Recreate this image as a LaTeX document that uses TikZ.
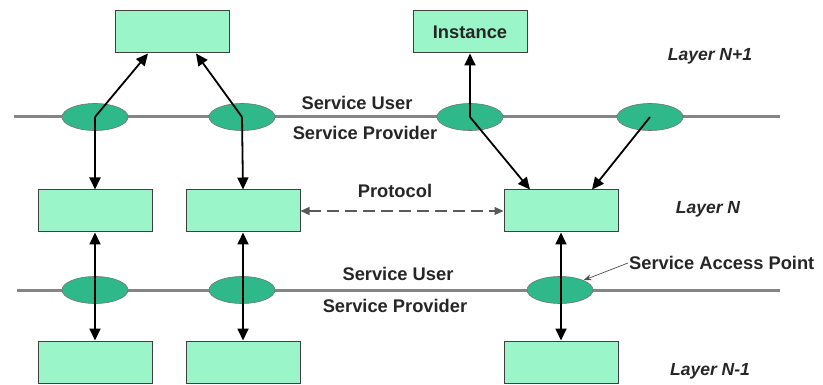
\documentclass[tikz,border=0pt]{standalone}
\usepackage{fontspec}
\setmainfont{Liberation Sans}
\usetikzlibrary{shapes.geometric,arrows.meta}
\definecolor{boxgreen}{HTML}{9AF5C8}
\definecolor{sapgreen}{HTML}{2FB98A}
\definecolor{linegray}{HTML}{858585}
\tikzset{
  unit/.style={draw=black!75, fill=boxgreen, line width=1pt, minimum width=114pt, minimum height=42pt, inner sep=0pt},
  sap/.style={ellipse, draw=black!55, fill=sapgreen, line width=0.6pt, minimum width=66pt, minimum height=27pt, inner sep=0pt},
  layerline/.style={linegray, line width=3pt},
  link/.style={-{Triangle[length=12pt,width=11pt]}, line width=1.8pt},
  twoway/.style={{Triangle[length=12pt,width=11pt]}-{Triangle[length=12pt,width=11pt]}, line width=1.8pt},
  lbl/.style={font=\bfseries\fontsize{18.3}{20}\selectfont, text=black!85},
  lyr/.style={font=\bfseries\itshape\fontsize{17.5}{20}\selectfont, text=black!85}
}
\begin{document}
\begin{tikzpicture}[x=1pt,y=-1pt]
  \useasboundingbox (0,0) rectangle (823,385);
  % layer boundaries
  \draw[layerline] (14,117) -- (780,117);
  \draw[layerline] (17,290) -- (780,290);
  % layer N+1
  \node[unit] (t1) at (172,32) {};
  \node[unit, lbl] (t2) at (470,32) {Instance};
  % layer N
  \node[unit] (m1) at (95,211) {};
  \node[unit] (m2) at (243,211) {};
  \node[unit] (m3) at (561,211) {};
  % layer N-1
  \node[unit] (b1) at (95,362) {};
  \node[unit] (b2) at (243,362) {};
  \node[unit] (b3) at (561,362) {};
  % service access points
  \node[sap] (u1) at (95,117) {};
  \node[sap] (u2) at (242,117) {};
  \node[sap] (u3) at (470,117) {};
  \node[sap] (u4) at (650,117) {};
  \node[sap] (s1) at (95,290) {};
  \node[sap] (s2) at (242,290) {};
  \node[sap] (s3) at (560,290) {};
  % texts
  \node[lbl] (su1) at (357,103) {Service User};
  \node[lbl] (sp1) at (365,133) {Service Provider};
  \node[lbl] (su2) at (398,274) {Service User};
  \node[lbl] (sp2) at (395,306) {Service Provider};
  \node[lbl] (prot) at (395,191) {Protocol};
  \node[lbl, anchor=west, inner sep=1pt] (saplbl) at (628,263) {Service Access Point};
  \node[lyr] (ln1) at (710,56) {Layer N+1};
  \node[lyr] (ln) at (708,209) {Layer N};
  \node[lyr] (ln0) at (710,371) {Layer N-1};
  % connectors
  \draw[link] (u1.center) -- (t1.south -| 148,0);
  \draw[link] (u1.center) -- (m1.north);
  \draw[link] (u2.center) -- (t1.south -| 196,0);
  \draw[link] (u2.center) -- (m2.north);
  \draw[link] (u3.center) -- (t2.south);
  \draw[link] (u3.center) -- (m3.north -| 530,0);
  \draw[link] (u4.center) -- (m3.north -| 592,0);
  \draw[twoway] (m1.south) -- (b1.north);
  \draw[twoway] (m2.south) -- (b2.north);
  \draw[twoway] (m3.south) -- (b3.north);
  \draw[{Triangle[length=9pt,width=8pt]}-{Triangle[length=9pt,width=8pt]}, line width=1.3pt, black!65, dash pattern=on 12pt off 6pt] (m2.east) -- (m3.west);
  \draw[-{Stealth[length=8pt,width=6pt]}, black!70, line width=0.7pt] (saplbl.west) -- (s3.north east);
\end{tikzpicture}
\end{document}
